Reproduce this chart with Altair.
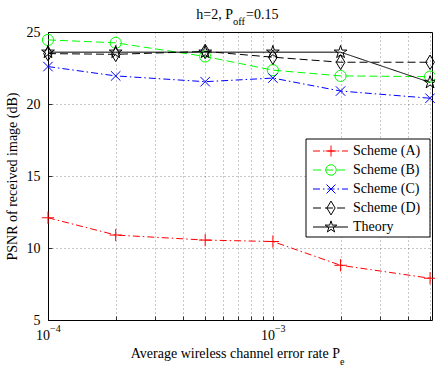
import altair as alt
import pandas as pd

# ---- data ----
pe = [1e-4, 2e-4, 5e-4, 1e-3, 2e-3, 5e-3]
scheme_a = [12.1, 10.9, 10.55, 10.45, 8.8, 7.9]
scheme_b = [24.45, 24.25, 23.3, 22.35, 21.95, 21.9]
scheme_c = [22.6, 21.95, 21.55, 21.8, 20.9, 20.4]
scheme_d = [23.5, 23.45, 23.65, 23.25, 22.9, 22.9]
theory = [23.6, 23.6, 23.6, 23.6, 23.6, 21.5]

series_names = ["Scheme (A)", "Scheme (B)", "Scheme (C)", "Scheme (D)", "Theory"]
series_values = [scheme_a, scheme_b, scheme_c, scheme_d, theory]

x_grid_values = [1e-4, 2e-4, 3e-4, 4e-4, 5e-4, 6e-4, 7e-4, 8e-4, 9e-4,
                 1e-3, 2e-3, 3e-3, 4e-3, 5e-3]
x_label_values = [1e-4, 1e-3]
x_label_exps = ["\u22124", "\u22123"]
y_ticks = [5, 10, 15, 20, 25]

# ---- styles ----
FONT = "Liberation Serif"
colors = ["#ff0000", "#00ff00", "#0000ff", "#000000", "#000000"]
dashes = [[7, 3, 1.5, 3], [8, 4], [7, 3, 1.5, 3], [8, 4], [1, 0]]
PLUS = "M-1,0L1,0M0,-1L0,1"
XMARK = "M-1,-1L1,1M-1,1L1,-1"
DIAMOND = "M0,-1L0.6,0L0,1L-0.6,0Z"
STAR = ("M0,-1L0.2245,-0.309L0.951,-0.309L0.363,0.118L0.588,0.809L0,0.382"
        "L-0.588,0.809L-0.363,0.118L-0.951,-0.309L-0.2245,-0.309Z")
shapes = [PLUS, "circle", XMARK, DIAMOND, STAR]
sizes = [150, 125, 90, 210, 180]

W, H = 384, 288

xscale = alt.Scale(type="log", domain=[1e-4, 5.1e-3], nice=False)
yscale = alt.Scale(domain=[5, 25], nice=False, zero=False)

layers = []

# base layer carrying axes / grid
base_df = pd.DataFrame({"pe": pe, "psnr": scheme_a})
axes_layer = alt.Chart(base_df).mark_point(opacity=0).encode(
    x=alt.X("pe:Q", scale=xscale,
            axis=alt.Axis(values=x_grid_values, labels=False, title=None,
                          grid=True, gridDash=[1, 3], gridColor="#000000",
                          gridOpacity=0.55, gridWidth=0.8,
                          domain=False, ticks=True, tickSize=4, offset=-4,
                          tickColor="#000000", tickWidth=0.8)),
    y=alt.Y("psnr:Q", scale=yscale,
            axis=alt.Axis(values=y_ticks, title="PSNR of received image (dB)",
                          grid=True, gridDash=[1, 3], gridColor="#000000",
                          gridOpacity=0.55, gridWidth=0.8,
                          domain=False, ticks=True, tickSize=4, offset=-4,
                          tickColor="#000000", tickWidth=0.8,
                          labelPadding=8, labelFont=FONT, labelFontSize=14,
                          labelColor="#000000",
                          titleFont=FONT, titleFontSize=14,
                          titleFontWeight="normal", titleColor="#000000",
                          titlePadding=7)),
)
layers.append(axes_layer)

for name, vals, col, dash, shp, sz in zip(series_names, series_values,
                                          colors, dashes, shapes, sizes):
    df = pd.DataFrame({"pe": pe, "psnr": vals})
    line = alt.Chart(df).mark_line(color=col, strokeDash=dash, strokeWidth=1,
                                   clip=False).encode(
        x=alt.X("pe:Q", scale=xscale), y=alt.Y("psnr:Q", scale=yscale))
    pts = alt.Chart(df).mark_point(shape=shp, size=sz, filled=False,
                                   stroke=col, strokeWidth=1, opacity=1,
                                   clip=False).encode(
        x=alt.X("pe:Q", scale=xscale), y=alt.Y("psnr:Q", scale=yscale))
    layers += [line, pts]

# x tick labels 10^-4, 10^-3
lab_df = pd.DataFrame({"pe": x_label_values, "exp": x_label_exps})
layers.append(alt.Chart(lab_df).mark_text(
    text="10", font=FONT, fontSize=14, align="right", baseline="alphabetic",
    dx=2, color="#000000").encode(
    x=alt.X("pe:Q", scale=xscale), y=alt.value(H + 20)))
layers.append(alt.Chart(lab_df).mark_text(
    font=FONT, fontSize=10, align="left", baseline="alphabetic",
    dx=2, color="#000000").encode(
    x=alt.X("pe:Q", scale=xscale), y=alt.value(H + 11.5), text="exp:N"))

one = pd.DataFrame({"k": [0]})

# x axis title with subscript
layers.append(alt.Chart(one).mark_text(
    text="Average wireless channel error rate P", font=FONT, fontSize=14,
    align="right", baseline="alphabetic", color="#000000").encode(
    x=alt.value(292), y=alt.value(H + 38)))
layers.append(alt.Chart(one).mark_text(
    text="e", font=FONT, fontSize=10, align="left", baseline="alphabetic",
    color="#000000").encode(x=alt.value(292), y=alt.value(H + 45)))

# chart title with subscript
layers.append(alt.Chart(one).mark_text(
    text="h=2, P", font=FONT, fontSize=14, align="right",
    baseline="alphabetic", color="#000000").encode(
    x=alt.value(185), y=alt.value(-13)))
layers.append(alt.Chart(one).mark_text(
    text="off", font=FONT, fontSize=10.5, align="left",
    baseline="alphabetic", color="#000000").encode(
    x=alt.value(185), y=alt.value(-7)))
layers.append(alt.Chart(one).mark_text(
    text="=0.15", font=FONT, fontSize=14, align="left",
    baseline="alphabetic", color="#000000").encode(
    x=alt.value(198), y=alt.value(-13)))

# legend box
layers.append(alt.Chart(one).mark_rect(
    fill="#ffffff", stroke="#000000", strokeWidth=1).encode(
    x=alt.value(258), x2=alt.value(382), y=alt.value(107), y2=alt.value(205)))

row_y = [119, 138, 157, 176, 195]
leg_sizes = [120, 110, 80, 190, 150]
for name, col, dash, shp, sz, ry in zip(series_names, colors, dashes,
                                        shapes, leg_sizes, row_y):
    layers.append(alt.Chart(one).mark_rule(
        color=col, strokeDash=dash, strokeWidth=1).encode(
        x=alt.value(265), x2=alt.value(300), y=alt.value(ry)))
    layers.append(alt.Chart(one).mark_point(
        shape=shp, size=sz, filled=False, stroke=col, strokeWidth=1,
        opacity=1).encode(x=alt.value(283), y=alt.value(ry)))
    layers.append(alt.Chart(one).mark_text(
        text=name, font=FONT, fontSize=14, align="left", baseline="middle",
        color="#000000").encode(x=alt.value(305), y=alt.value(ry)))

chart = alt.layer(*layers).properties(
    width=W, height=H,
    autosize=alt.AutoSizeParams(type="none"),
    padding={"left": 48, "top": 32, "right": 3, "bottom": 48},
    background="#ffffff",
).configure_view(stroke="#000000", strokeWidth=1)

chart.save("out.html", embed_options={"renderer": "svg", "actions": False})
